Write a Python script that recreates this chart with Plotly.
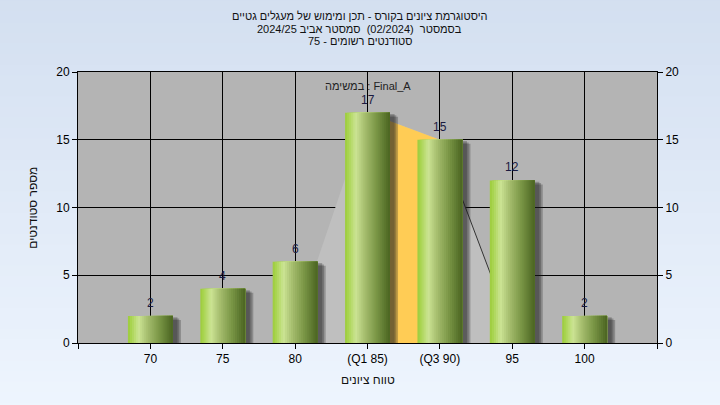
import plotly.graph_objects as go
import numpy as np

# data
grades = [70, 75, 80, 85, 90, 95, 100]
grade_labels = ["70", "75", "80", "(Q1 85)", "(Q3 90)", "95", "100"]
counts = [2, 4, 6, 17, 15, 12, 2]

# light grey spread area and the yellow Q1-Q3 band
spread_x = [79.6, 85, 90, 95.3]
spread_y = [0, 17, 15, 0]
iqr_x = [85, 90]
iqr_y = [17, 15]
tail_x = [90, 95.3]
tail_y = [15, 0]

title_lines = [
    "היסטוגרמת ציונים בקורס - תכן ומימוש של מעגלים גטיים",
    "בסמסטר  (02/2024)  סמסטר אביב 2024/25",
    "סטודנטים רשומים - 75",
]
task_label = "במשימה : Final_A"
x_title = "טווח ציונים"
y_title = "מספר סטודנטים"

FONT = "Liberation Sans, Arial, sans-serif"


def hex_rgb(h):
    h = h.lstrip("#")
    return np.array([int(h[i:i + 2], 16) for i in (0, 2, 4)], dtype=float)


def interp(stops, t):
    for (t0, c0), (t1, c1) in zip(stops[:-1], stops[1:]):
        if t0 <= t <= t1:
            f = (t - t0) / (t1 - t0)
            c = hex_rgb(c0) * (1 - f) + hex_rgb(c1) * f
            return "rgb(%d,%d,%d)" % tuple(c.round())
    return stops[-1][1]


fig = go.Figure()

# spread area + IQR band + tail line (main subplot, under the bars)
fig.add_trace(go.Scatter(x=spread_x, y=spread_y, fill="toself", mode="none",
                         fillcolor="#bfbfbf", hoverinfo="skip"))
fig.add_trace(go.Scatter(x=iqr_x, y=iqr_y, fill="tozeroy", mode="none",
                         fillcolor="#ffcc55", hoverinfo="skip"))
fig.add_trace(go.Scatter(x=tail_x, y=tail_y, mode="lines",
                         line=dict(color="#333333", width=1), hoverinfo="skip"))

# bars live on an overlaying subplot so they sit above the fills
bar_w = 3.1

# soft shadow on the right
for k in range(1, 4):
    fig.add_trace(go.Bar(
        x=grades, y=[c - 0.1 * k for c in counts],
        width=bar_w + 0.12 * k, offset=-bar_w / 2 + 0.2,
        marker=dict(color="rgba(30,30,30,0.27)", line=dict(width=0)),
        xaxis="x2", yaxis="y2", hoverinfo="skip"))

# cylinder look: each strip runs to the right edge, the next one covers it
stops = [(0.0, "#9ccb3b"), (0.08, "#aad553"), (0.24, "#cce494"),
         (0.45, "#a3bb6c"), (0.7, "#7a9646"), (1.0, "#4a6421")]
n_strips = 22
sw = bar_w / n_strips
for i in range(n_strips):
    t = (i + 0.5) / n_strips
    fig.add_trace(go.Bar(
        x=grades, y=counts, width=bar_w - i * sw, offset=-bar_w / 2 + i * sw,
        marker=dict(color=interp(stops, t), line=dict(width=0)),
        xaxis="x2", yaxis="y2", hoverinfo="skip"))

# value labels
for g, c in zip(grades, counts):
    fig.add_annotation(x=g, y=c, xref="x2", yref="y2", text=str(c),
                       showarrow=False, yshift=13, xanchor="center", yanchor="middle",
                       font=dict(family=FONT, size=12, color="#1a1a40"))

# titles
for yy, line in zip([1.207, 1.159, 1.114], title_lines):
    fig.add_annotation(x=0.487, y=yy, xref="paper", yref="paper", text=line,
                       showarrow=False, xanchor="center", yanchor="middle",
                       font=dict(family=FONT, size=11, color="#111"))
fig.add_annotation(x=0.501, y=0.948, xref="paper", yref="paper", text=task_label,
                   showarrow=False, xanchor="center", yanchor="middle",
                   font=dict(family=FONT, size=11, color="#222"))

# axis titles
fig.add_annotation(x=0.5, y=-0.138, xref="paper", yref="paper", text=x_title,
                   showarrow=False, xanchor="center", yanchor="middle",
                   font=dict(family=FONT, size=12, color="#111"))
fig.add_annotation(x=-0.079, y=0.5, xref="paper", yref="paper", text=y_title,
                   textangle=-90, showarrow=False, xanchor="center", yanchor="middle",
                   font=dict(family=FONT, size=12, color="#111"))

# background: vertical light-blue gradient, then grey plot area on top
n_bg = 40
y_lo, y_hi = -0.26, 1.3
for i in range(n_bg):
    t = i / (n_bg - 1)
    c = hex_rgb("#eef5fe") * (1 - t) + hex_rgb("#d3dff0") * t
    y0 = y_lo + (y_hi - y_lo) * i / n_bg
    fig.add_shape(type="rect", xref="paper", yref="paper", x0=-0.3, x1=1.3,
                  y0=y0, y1=y0 + (y_hi - y_lo) / n_bg + 0.005,
                  fillcolor="rgb(%d,%d,%d)" % tuple(c.round()),
                  line=dict(width=0), layer="below")
fig.add_shape(type="rect", xref="x domain", yref="y domain", x0=0, x1=1, y0=0, y1=1,
              fillcolor="#b4b4b4", line=dict(width=0), layer="below")

tick_font = dict(family=FONT, size=12, color="#000")
xr = [65, 105]
yr = [0, 20]
fig.update_layout(
    width=720, height=405,
    margin=dict(l=78, r=63, t=72, b=62),
    barmode="overlay",
    showlegend=False,
    plot_bgcolor="rgba(0,0,0,0)",
    paper_bgcolor="#e2ebf7",
    xaxis=dict(range=xr, tickvals=[65] + grades + [105],
               ticktext=[""] + grade_labels + [""], automargin=False,
               showgrid=True, gridcolor="#000", gridwidth=1,
               showline=True, linecolor="#000", linewidth=1, mirror=True,
               ticks="outside", ticklen=5, tickcolor="#000", tickfont=tick_font,
               zeroline=False),
    yaxis=dict(range=yr, tickvals=[0, 5, 10, 15, 20], automargin=False,
               showgrid=True, gridcolor="#000", gridwidth=1,
               showline=True, linecolor="#000", linewidth=1, mirror=True,
               ticks="outside", ticklen=5, tickcolor="#000", tickfont=tick_font,
               zeroline=False),
    xaxis2=dict(range=xr, overlaying="x", visible=False, automargin=False),
    yaxis2=dict(range=yr, overlaying="y", side="right", tickvals=[0, 5, 10, 15, 20],
                showgrid=False, zeroline=False, showline=False, automargin=False,
                ticks="outside", ticklen=5, tickcolor="#000", tickfont=tick_font),
)

fig.write_html("out.html", config={"displayModeBar": False},
               post_script="document.body.style.margin='0';")
